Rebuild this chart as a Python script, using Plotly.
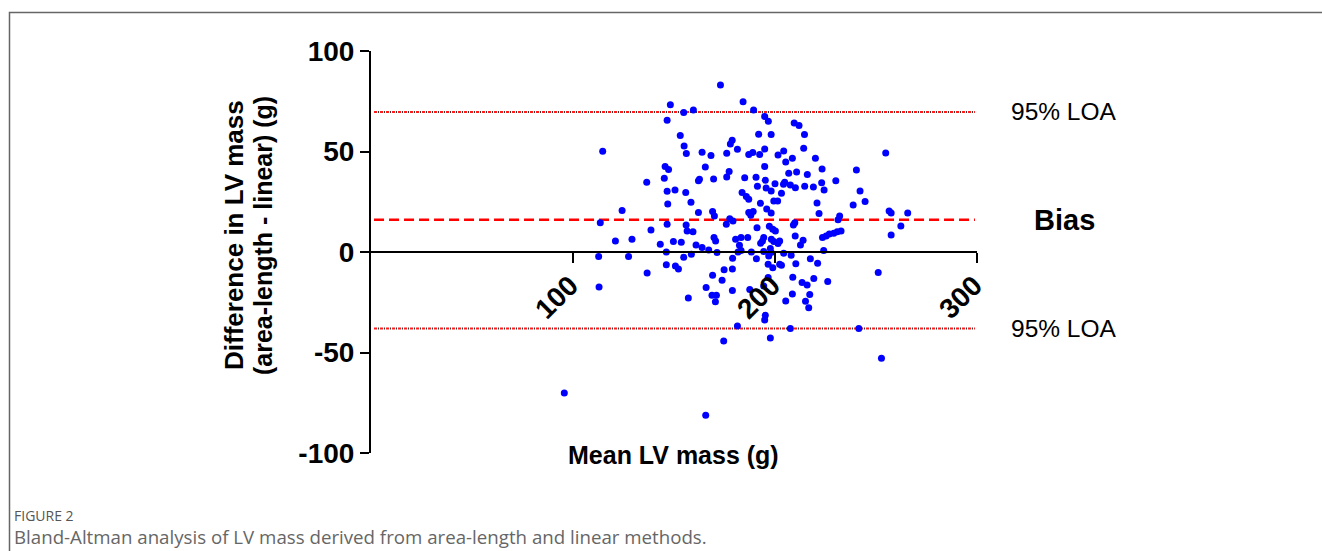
import plotly.graph_objects as go

# ---- data ----
MEAN_LV_MASS = [
    173.0, 148.2, 154.8, 159.6, 146.6, 114.7, 153.1, 155.0, 156.1, 163.9,
    168.3, 165.5, 178.8, 177.9, 176.1, 181.4, 145.6, 147.3, 145.2, 136.5,
    146.6, 150.5, 155.8, 146.9, 158.4, 162.6, 162.1, 169.6, 177.3, 176.1,
    124.3, 113.5, 162.1, 169.1, 170.0, 146.6, 156.0, 156.5, 159.4, 138.6,
    177.6, 175.9, 179.2, 121.0, 129.2, 143.2, 149.7, 153.6, 160.9, 163.9,
    167.2, 169.8, 170.6, 180.5, 182.4, 146.2, 171.3, 181.7, 112.7, 127.5,
    154.8, 158.6, 179.0,
    184.2, 189.4, 194.9, 196.7, 209.5, 211.9, 191.9, 198.1, 214.6, 187.0,
    189.0, 192.4, 194.9, 201.5, 204.3, 208.6, 205.3, 214.2, 220.0, 254.8,
    185.0, 194.9, 190.6, 195.2, 191.3, 195.6, 198.1, 200.0, 203.2, 199.4,
    201.3, 204.2, 204.8, 206.8, 207.6, 210.1, 210.7, 214.7, 216.0, 219.0,
    223.3, 223.1, 224.3, 230.1, 240.3, 242.1, 244.6, 238.7, 220.8, 221.8,
    183.7, 185.8, 187.0, 192.8, 195.9, 198.1, 187.0, 189.2, 188.0, 191.1,
    197.2, 198.9, 200.2, 209.1, 209.8, 231.2, 232.0, 232.7, 230.8, 229.1,
    226.9, 225.3, 223.5, 256.5, 257.5, 265.7, 262.3, 257.5, 183.2, 186.5,
    183.2, 193.8, 194.4, 192.9, 198.2, 199.4, 202.3, 201.5, 210.0, 213.9,
    212.6, 188.3, 194.4, 197.7, 198.1, 204.3, 208.0, 224.1, 196.9, 217.5,
    146.2, 150.7, 152.2, 136.7, 169.1, 174.8, 178.9, 173.8, 112.9, 165.9,
    168.8, 171.0, 170.5, 178.9, 157.1, 181.4, 174.6, 95.7, 165.7, 190.8,
    221.1, 210.3, 202.3, 203.2, 196.6, 198.9, 208.8, 213.4, 215.9, 219.2,
    226.1, 251.1, 187.5, 194.4, 196.6, 208.6, 217.2, 215.1, 205.3, 216.7,
    195.2, 194.9, 207.6, 241.5, 197.7, 252.7,
]
DIFFERENCE = [
    83.1, 73.3, 69.4, 70.6, 65.5, 50.1, 57.9, 52.7, 49.0, 49.6,
    48.0, 42.3, 55.6, 53.7, 49.1, 51.1, 42.5, 41.1, 36.7, 34.7,
    30.2, 30.8, 29.6, 23.9, 24.7, 36.2, 35.5, 36.3, 40.1, 37.3,
    20.7, 14.6, 19.6, 20.1, 17.9, 13.8, 13.4, 10.4, 10.1, 10.9,
    16.6, 13.8, 15.4, 5.5, 6.3, 3.8, 5.2, 4.8, 3.5, 2.2,
    1.0, 7.2, 5.5, 6.3, 3.3, 0.0, -0.3, 0.0, -2.3, -2.3,
    -2.6, -1.1, -3.1,
    74.8, 70.6, 67.4, 65.0, 64.2, 62.9, 58.6, 58.4, 58.4, 48.5,
    49.5, 48.5, 51.2, 48.3, 50.2, 46.6, 44.8, 51.6, 46.6, 49.3,
    37.0, 42.5, 37.2, 35.7, 32.7, 31.8, 30.3, 34.0, 29.2, 25.4,
    25.4, 33.7, 34.7, 39.2, 33.3, 32.0, 39.8, 32.7, 38.5, 32.3,
    41.3, 34.5, 30.8, 35.5, 40.8, 30.3, 25.1, 23.4, 24.4, 19.1,
    29.6, 27.6, 26.2, 24.2, 21.4, 19.4, 19.6, 20.1, 18.3, 12.1,
    12.8, 11.3, 10.4, 13.4, 14.6, 16.1, 17.9, 10.4, 10.1, 9.3,
    9.0, 8.0, 7.2, 20.4, 19.4, 19.4, 12.9, 8.5, 7.2, 7.2,
    0.8, 5.5, 7.2, 4.3, 6.3, 5.2, 5.5, 4.2, 8.0, 5.8,
    3.5, 0.0, 0.2, 1.8, -0.3, -0.6, -1.6, 0.8, -2.0, -3.3,
    -6.3, -7.0, -8.5, -10.4, -11.6, -8.8, -8.5, -14.1, -17.4, -17.7,
    -21.5, -21.5, -24.7, -19.2, -22.9, -36.8, -44.3, -70.1, -81.2, -3.3,
    -5.6, -5.8, -6.1, -6.6, -6.1, -7.8, -12.6, -15.2, -16.4, -13.2,
    -14.7, -10.2, -18.6, -16.9, -12.7, -20.9, -21.2, -24.5, -24.4, -27.7,
    -31.5, -33.8, -38.1, -38.1, -42.8, -52.9,
]
BIAS = 16.1
LOA_UPPER = 69.7
LOA_LOWER = -38.0
REF_LINE_X = [1.5, 299.0]

X_TICKS = [100, 200, 300]
Y_TICKS = [-100, -50, 0, 50, 100]
X_RANGE = [0, 300]
Y_RANGE = [-100, 100]

assert len(MEAN_LV_MASS) == len(DIFFERENCE)

# ---- layout geometry ----
W, H = 1322, 551
L, R, T, B = 371, 345, 51, 98
PW, PH = W - L - R, H - T - B


def px_x(px):
    return (px - L) / PW


def px_y(py):
    return (H - B - py) / PH


FONT = "Liberation Sans, Arial, sans-serif"
CAP_FONT = "Open Sans, sans-serif"

fig = go.Figure()

# Reference lines (95% limits of agreement: red/black dotted; bias: red dashed)
for yv in (LOA_UPPER, LOA_LOWER):
    fig.add_trace(go.Scatter(x=REF_LINE_X, y=[yv, yv], mode="lines",
                             line=dict(color="#ff1a1a", width=2, dash="3px,3px"),
                             hoverinfo="skip", showlegend=False))
    fig.add_trace(go.Scatter(x=REF_LINE_X, y=[yv, yv], mode="lines",
                             line=dict(color="#333333", width=2, dash="0px,4px,1px,1px"),
                             hoverinfo="skip", showlegend=False))
fig.add_trace(go.Scatter(x=REF_LINE_X, y=[BIAS, BIAS], mode="lines",
                         line=dict(color="#ff0000", width=2.5, dash="10px,5px"),
                         hoverinfo="skip", showlegend=False))

# Points
fig.add_trace(go.Scatter(x=MEAN_LV_MASS, y=DIFFERENCE, mode="markers",
                         marker=dict(color="#0000ff", size=7, line=dict(width=0)),
                         showlegend=False))


def ann(x, y, text, size, bold=False, yref="paper", **kw):
    font = dict(family=kw.pop("family", FONT), size=size, color=kw.pop("color", "#000"))
    if bold:
        font["weight"] = "bold"
    d = dict(x=x, y=y, xref="paper", yref=yref, text=text, showarrow=False,
             xanchor=kw.pop("xanchor", "center"), yanchor=kw.pop("yanchor", "middle"),
             font=font)
    d.update(kw)
    return d


annotations = [
    ann(px_x(1064), LOA_UPPER, "95% LOA", 24.5, yref="y"),
    ann(px_x(1064), LOA_LOWER, "95% LOA", 24.5, yref="y"),
    ann(px_x(1064.5), BIAS, "Bias", 29, bold=True, yref="y"),
    ann(px_x(673.5), px_y(455), "Mean LV mass (g)", 25, bold=True),
    ann(px_x(234), px_y(235), "Difference in LV mass", 26, bold=True, textangle=-90),
    ann(px_x(263), px_y(236), "(area-length - linear) (g)", 25, bold=True, textangle=-90),
    ann(px_x(12), px_y(515), "FIGURE 2", 14, xanchor="left", family=CAP_FONT, color="#555555"),
    ann(px_x(12), px_y(536),
        "Bland-Altman analysis of LV mass derived from area-length and linear methods.",
        18.7, xanchor="left", family=CAP_FONT, color="#666666"),
]

shapes = [
    dict(type="path", xref="paper", yref="paper",
         path=f"M {px_x(9.5)},{px_y(560)} L {px_x(9.5)},{px_y(12.5)} L {px_x(1330)},{px_y(12.5)}",
         line=dict(color="#666666", width=1.5)),
]

fig.update_layout(
    width=W, height=H,
    margin=dict(l=L, r=R, t=T, b=B),
    paper_bgcolor="white", plot_bgcolor="white",
    showlegend=False,
    annotations=annotations,
    shapes=shapes,
    xaxis=dict(range=X_RANGE, tickvals=X_TICKS, ticktext=[str(v) for v in X_TICKS],
               showgrid=False, zeroline=False, showline=True, linecolor="black",
               linewidth=2, ticks="outside", ticklen=10, tickwidth=2, tickcolor="black",
               tickangle=-45, anchor="free", position=0.5,
               ticklabelstandoff=-5, ticklabelshift=-3,
               tickfont=dict(family=FONT, size=28, color="black", weight="bold")),
    yaxis=dict(range=Y_RANGE, tickvals=Y_TICKS, ticktext=[str(v) for v in Y_TICKS],
               showgrid=False, zeroline=False, showline=True, linecolor="black",
               linewidth=2, ticks="outside", ticklen=9, tickwidth=2, tickcolor="black",
               tickfont=dict(family=FONT, size=28, color="black", weight="bold")),
)

fig.write_html("out.html")
